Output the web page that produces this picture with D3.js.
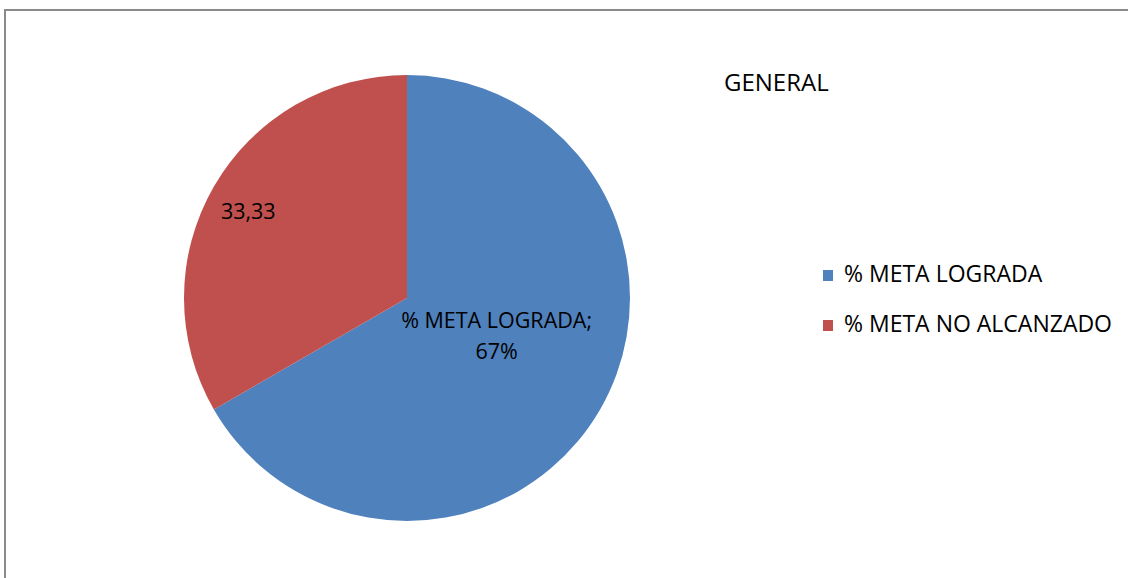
<!DOCTYPE html>
<html>
<head>
<meta charset="utf-8">
<script src="https://cdn.jsdelivr.net/npm/d3@7"></script>
<style>
  body { margin: 0; background: #fff; }
  svg { display: block; font-family: "Open Sans", sans-serif; }
</style>
</head>
<body>
<svg id="chart" width="1128" height="578"></svg>
<script>
// data
var categories = ["% META LOGRADA", "% META NO ALCANZADO"];
var values = [66.67, 33.33];
var labels = ["% META LOGRADA;\n67%", "33,33"];
var colors = ["#4F81BD", "#C0504D"];
var title = "GENERAL";

var svg = d3.select("#chart");

// frame (only top and left edges show)
svg.append("line").attr("x1", 5).attr("y1", 10).attr("x2", 1128).attr("y2", 10)
    .attr("stroke", "#8a8a8a").attr("stroke-width", 2);
svg.append("line").attr("x1", 5).attr("y1", 9).attr("x2", 5).attr("y2", 578)
    .attr("stroke", "#8a8a8a").attr("stroke-width", 2);

var cx = 407, cy = 298, radius = 223;

var pie = d3.pie().sort(null).value(function (d) { return d; });
var arc = d3.arc().innerRadius(0).outerRadius(radius);
var arcs = pie(values);

var g = svg.append("g").attr("transform", "translate(" + cx + "," + cy + ")");

g.selectAll("path.slice")
    .data(arcs)
    .enter().append("path")
    .attr("class", "slice")
    .attr("d", arc)
    .attr("fill", function (d, i) { return colors[i]; });

// label placement: radius + small nudge per slice
var labelRadius = [100, 181];
var labelShift = [[3, -13], [-2, 4]];
var lineH = 31;
g.selectAll("text.lbl")
    .data(arcs)
    .enter().append("text")
    .attr("class", "lbl")
    .attr("text-anchor", "middle")
    .attr("font-size", 21.5)
    .attr("fill", "#000")
    .each(function (d, i) {
        var a = (d.startAngle + d.endAngle) / 2;
        var x = Math.sin(a) * labelRadius[i] + labelShift[i][0];
        var y = -Math.cos(a) * labelRadius[i] + labelShift[i][1];
        var lines = labels[i].split("\n");
        var t = d3.select(this);
        var y0 = y - (lines.length - 1) * lineH / 2 + 8;
        lines.forEach(function (l, j) {
            t.append("tspan").attr("x", x).attr("y", y0 + j * lineH).text(l);
        });
    });

// title
svg.append("text")
    .attr("x", 724).attr("y", 91)
    .attr("font-size", 24)
    .attr("fill", "#000")
    .text(title);

// legend
var legend = svg.selectAll("g.leg")
    .data(categories)
    .enter().append("g")
    .attr("class", "leg")
    .attr("transform", function (d, i) { return "translate(823," + (282 + i * 50) + ")"; });

legend.append("rect")
    .attr("x", 0).attr("y", -12)
    .attr("width", 10).attr("height", 11)
    .attr("fill", function (d, i) { return colors[i]; });

legend.append("text")
    .attr("x", 21).attr("y", 0)
    .attr("font-size", 23)
    .attr("fill", "#000")
    .text(function (d) { return d; });
</script>
</body>
</html>
